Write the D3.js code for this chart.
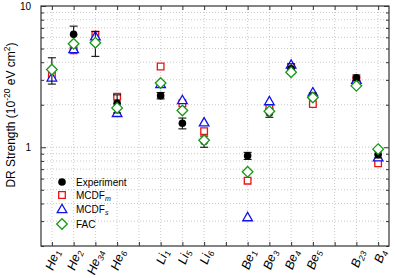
<!DOCTYPE html>
<html><head><meta charset="utf-8">
<script src="https://cdn.jsdelivr.net/npm/d3@7"></script>
<style>body{margin:0;background:#fff}svg{display:block;font-family:"Liberation Sans",Arial,sans-serif}</style>
</head><body><svg id="c" width="395" height="278"></svg>
<script>
const categories = [["He","1"],["He","2"],["He","34"],["He","6"],null,["Li","1"],["Li","5"],["Li","6"],null,["Be","1"],["Be","3"],["Be","4"],["Be","5"],null,["B","23"],["B","4"]];
const experiment = [3.55,6.3,5.5,2.05,null,2.32,1.48,1.1,null,0.87,1.75,3.6,2.3,null,3.1,0.89];
const experimentErr = [0.75,0.9,1.1,0.3,null,0.12,0.13,0.1,null,0.05,0.12,0.3,0.12,null,0.15,0.05];
const mcdfM = [3.2,4.85,6.25,2.28,null,3.73,2.05,1.3,null,0.58,1.9,3.65,2.02,null,3.0,0.77];
const mcdfS = [3.12,4.95,6.1,1.75,null,2.8,2.16,1.5,null,0.32,2.12,3.85,2.45,null,3.0,0.85];
const fac = [3.55,5.4,5.5,1.9,null,2.85,1.82,1.12,null,0.67,1.8,3.4,2.25,null,2.72,0.97];
const yMajor = [1,10];
const yMinor = [0.2,0.3,0.4,0.5,0.6,0.7,0.8,0.9,2,3,4,5,6,7,8,9];

const svg = d3.select("#c");
const L=41,R=389,T=6,B=246;
const x = d3.scaleLinear().domain([0.5,16.5]).range([L,R]);
const y = d3.scaleLog().domain([0.2,10]).range([B,T]);
const idx = d3.range(1,17);

// grid
const g = svg.append("g");
g.selectAll("line.gx").data(idx).enter().append("line")
 .attr("x1",d=>x(d)).attr("x2",d=>x(d)).attr("y1",T).attr("y2",B)
 .attr("stroke","#bbb").attr("stroke-width",0.8).attr("stroke-dasharray","1,2");
g.selectAll("line.gy").data(yMinor.concat(yMajor).filter(v=>v>0.2&&v<10)).enter().append("line")
 .attr("x1",L).attr("x2",R).attr("y1",d=>y(d)).attr("y2",d=>y(d))
 .attr("stroke","#bbb").attr("stroke-width",0.8).attr("stroke-dasharray","1,2");

// axes
function styleAxis(sel){sel.select(".domain").remove();sel.selectAll(".tick line").attr("stroke","#333");sel.selectAll("text").attr("font-size",10).attr("fill","#000").attr("font-family","Liberation Sans, Arial, sans-serif");}
svg.append("g").attr("transform",`translate(${L},0)`).call(d3.axisLeft(y).tickValues(yMajor).tickSize(-5).tickPadding(10).tickFormat(d3.format("d"))).call(styleAxis);
svg.append("g").attr("transform",`translate(${L},0)`).call(d3.axisLeft(y).tickValues(yMinor).tickSize(-3).tickFormat("")).call(styleAxis);
svg.append("g").attr("transform",`translate(${R},0)`).call(d3.axisRight(y).tickValues(yMajor).tickSize(-5).tickFormat("")).call(styleAxis);
svg.append("g").attr("transform",`translate(${R},0)`).call(d3.axisRight(y).tickValues(yMinor).tickSize(-3).tickFormat("")).call(styleAxis);
svg.append("g").attr("transform",`translate(0,${B})`).call(d3.axisBottom(x).tickValues(idx).tickSize(-4).tickFormat("")).call(styleAxis);
svg.append("g").attr("transform",`translate(0,${T})`).call(d3.axisTop(x).tickValues(idx).tickSize(-4).tickFormat("")).call(styleAxis);
svg.append("rect").attr("x",L).attr("y",T).attr("width",R-L).attr("height",B-T).attr("fill","none").attr("stroke","#333").attr("stroke-width",1.2);

// x labels
categories.forEach((c,i)=>{
  if(!c) return;
  const t = svg.append("text").attr("transform",`translate(${x(i+1)+4},${B+4}) rotate(-70)`)
   .attr("text-anchor","end").attr("dy","0.35em").attr("font-size",12.5).attr("font-style","italic").attr("fill","#000");
  t.append("tspan").text(c[0]);
  t.append("tspan").attr("font-size",8.5).attr("dy","0.3em").text(c[1]);
});

// y label
const yl = svg.append("text").attr("transform",`translate(15,${(T+B)/2-11}) rotate(-90)`).attr("text-anchor","middle").attr("font-size",12).attr("fill","#000");
yl.append("tspan").text("DR Strength (10");
yl.append("tspan").attr("font-size",8.5).attr("dy","-0.55em").text("-20");
yl.append("tspan").attr("dy","0.4em").text(" eV cm");
yl.append("tspan").attr("font-size",8.5).attr("dy","-0.55em").text("2");
yl.append("tspan").attr("dy","0.4em").text(")");

const RED="#ee1111",BLUE="#1111ee",GREEN="#169916";
const sq = d3.symbol().type(d3.symbolSquare).size(44)();
const tri = d3.symbol().type(d3.symbolTriangle).size(40)();
const dia = "M0,-5.3L5.3,0L0,5.3L-5.3,0Z";

const pts = idx.map((d,i)=>({i:d,e:experiment[i],err:experimentErr[i],m:mcdfM[i],s:mcdfS[i],f:fac[i]})).filter(d=>d.e!=null);

function markers(key,path,col,dy){
  svg.append("g").selectAll("path").data(pts).enter().append("path").attr("d",path)
   .attr("transform",d=>`translate(${x(d.i)},${y(d[key])+dy})`)
   .attr("fill","#fff").attr("stroke",col).attr("stroke-width",1.3);
}
markers("m",sq,RED,0);
markers("s",tri,BLUE,0.8);

// error bars + experiment
const eb = svg.append("g").attr("stroke","#111").attr("stroke-width",1.1);
pts.forEach(d=>{
  const y1=y(d.e+d.err), y2=y(d.e-d.err), cx=x(d.i);
  eb.append("line").attr("x1",cx).attr("x2",cx).attr("y1",y1).attr("y2",y2);
  eb.append("line").attr("x1",cx-4).attr("x2",cx+4).attr("y1",y1).attr("y2",y1);
  eb.append("line").attr("x1",cx-4).attr("x2",cx+4).attr("y1",y2).attr("y2",y2);
});
svg.append("g").selectAll("circle").data(pts).enter().append("circle")
 .attr("cx",d=>x(d.i)).attr("cy",d=>y(d.e)).attr("r",3.8).attr("fill","#000");

markers("f",dia,GREEN,0);

// legend
const lg = svg.append("g");
const items=[["Experiment","c",182],["MCDF","m",195],["MCDF","s",209],["FAC","f",224]];
items.forEach(([lab,k,yy])=>{
  const cx=62;
  if(k==="c") lg.append("circle").attr("cx",cx).attr("cy",yy).attr("r",3.8).attr("fill","#000");
  if(k==="m") lg.append("path").attr("d",sq).attr("transform",`translate(${cx},${yy})`).attr("fill","#fff").attr("stroke",RED).attr("stroke-width",1.3);
  if(k==="s") lg.append("path").attr("d",tri).attr("transform",`translate(${cx},${yy+0.8})`).attr("fill","#fff").attr("stroke",BLUE).attr("stroke-width",1.3);
  if(k==="f") lg.append("path").attr("d",dia).attr("transform",`translate(${cx},${yy})`).attr("fill","#fff").attr("stroke",GREEN).attr("stroke-width",1.3);
  const t=lg.append("text").attr("x",76).attr("y",yy).attr("dy","0.35em").attr("font-size",10).attr("fill","#000");
  t.append("tspan").text(lab);
  if(lab==="MCDF") t.append("tspan").attr("font-size",7).attr("font-style","italic").attr("dy","0.35em").text(k);
});
</script></body></html>
